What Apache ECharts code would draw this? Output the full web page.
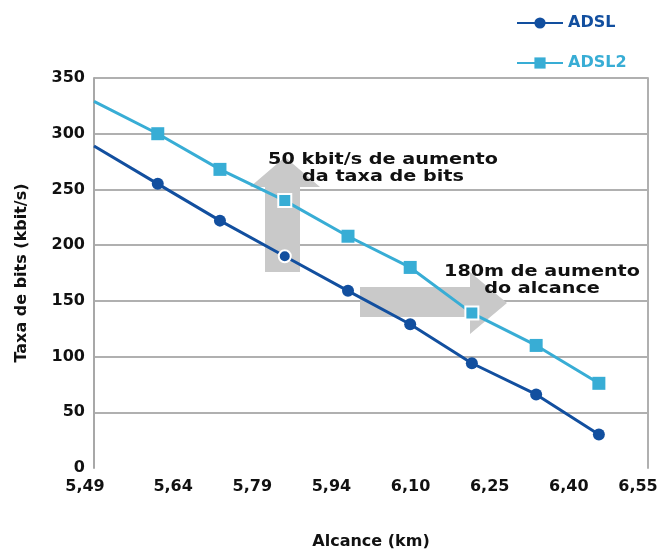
<!DOCTYPE html>
<html>
<head>
<meta charset="utf-8">
<script src="https://cdn.jsdelivr.net/npm/echarts@6/dist/echarts.min.js"></script>
<style>html,body{margin:0;padding:0;background:#fff}#c{width:665px;height:549px}</style>
</head>
<body>
<div id="c"></div>
<script>
// Data
const tickLabels = ['5,49','5,64','5,79','5,94','6,10','6,25','6,40','6,55'];
const alcanceKm = [5.49, 5.612, 5.731, 5.855, 5.976, 6.095, 6.213, 6.336, 6.456];
const adsl  = [289, 255, 222, 190, 159, 129, 94, 66, 30];
const adsl2 = [329, 300, 268, 240, 208, 180, 139, 110, 76];
const highlightAdsl = [3];
const highlightAdsl2 = [3, 6];
const yTicks = [0, 50, 100, 150, 200, 250, 300, 350];

const kmMin = 5.49, kmMax = 6.55;
const step = (kmMax - kmMin) / (tickLabels.length - 1);

const C1 = '#124f9f', C2 = '#38add5';
const FONT = 'DejaVu Sans';

function build(vals, hl, color) {
  return vals.map((v, i) => {
    const d = { value: [alcanceKm[i] - kmMin, v] };
    if (i === 0) d.symbol = 'none';
    if (hl.indexOf(i) >= 0) d.itemStyle = { borderColor: '#fff', borderWidth: 2, color: color };
    return d;
  });
}

const labelStyle = { fontFamily: FONT, fontWeight: 'bold', fontSize: 16, color: '#111' };

const chart = echarts.init(document.getElementById('c'));
chart.setOption({
  animation: false,
  textStyle: { fontFamily: FONT },
  grid: { left: 94, right: 17, top: 78, bottom: 81, outerBoundsMode: 'none', containLabel: false },
  legend: {
    orient: 'vertical', left: 511, top: 10, itemGap: 24, itemWidth: 46, itemHeight: 14,
    textStyle: { fontFamily: FONT, fontWeight: 'bold', fontSize: 16 },
    data: [
      { name: 'ADSL', textStyle: { color: C1 } },
      { name: 'ADSL2', textStyle: { color: C2 } }
    ]
  },
  xAxis: {
    type: 'value', min: 0, max: kmMax - kmMin, interval: step,
    name: 'Alcance (km)', nameLocation: 'middle', nameGap: 66,
    nameTextStyle: { fontFamily: FONT, fontWeight: 'bold', fontSize: 16, color: '#111' },
    axisLine: { show: false }, axisTick: { show: false }, splitLine: { show: false },
    axisLabel: {
      margin: 11, fontFamily: FONT, fontWeight: 'bold', fontSize: 16, color: '#111',
      formatter: v => {
        const i = Math.round(v / step);
        if (i === 0) return '{first|' + tickLabels[i] + '}';
        if (i === tickLabels.length - 1) return '{last|' + tickLabels[i] + '}';
        return tickLabels[i];
      },
      rich: {
        first: Object.assign({ padding: [0, 18, 0, 0] }, labelStyle),
        last: Object.assign({ padding: [0, 20, 0, 0] }, labelStyle)
      }
    }
  },
  yAxis: [{
    type: 'value', min: yTicks[0], max: yTicks[yTicks.length - 1], interval: yTicks[1] - yTicks[0],
    name: 'Taxa de bits (kbit/s)', nameLocation: 'middle', nameGap: 64,
    nameTextStyle: { fontFamily: FONT, fontWeight: 'bold', fontSize: 16, color: '#111' },
    axisLine: { show: true, lineStyle: { color: '#a8a8a8', width: 2 } },
    axisTick: { show: false },
    splitLine: { show: true, showMinLine: false, lineStyle: { color: '#b0b0b0', width: 2 } },
    axisLabel: { margin: 9, fontFamily: FONT, fontWeight: 'bold', fontSize: 16, color: '#111' }
  }, {
    type: 'value', position: 'right', min: yTicks[0], max: yTicks[yTicks.length - 1],
    axisLine: { show: true, lineStyle: { color: '#b0b0b0', width: 2 } },
    axisTick: { show: false }, axisLabel: { show: false }, splitLine: { show: false }
  }],
  graphic: [
    { type: 'polygon', z: 1, shape: { points: [[265,272],[265,187],[250,187],[285,157],[320,187],[300,187],[300,272]] }, style: { fill: '#c9c9c9' } },
    { type: 'polygon', z: 1, shape: { points: [[360,287],[470,287],[470,272],[507,303],[470,334],[470,317],[360,317]] }, style: { fill: '#c9c9c9' } },
    { type: 'text', z: 10, x: 383, y: 152, scaleX: 1.28, style: { text: '50 kbit/s de aumento\nda taxa de bits', align: 'center', verticalAlign: 'top', fill: '#111', font: 'bold 15px "DejaVu Sans"', lineHeight: 17 } },
    { type: 'text', z: 10, x: 542, y: 264, scaleX: 1.28, style: { text: '180m de aumento\ndo alcance', align: 'center', verticalAlign: 'top', fill: '#111', font: 'bold 15px "DejaVu Sans"', lineHeight: 17 } }
  ],
  series: [{
    name: 'ADSL', type: 'line', z: 3, data: build(adsl, highlightAdsl, C1),
    symbol: 'circle', symbolSize: 12, lineStyle: { color: C1, width: 3 }, itemStyle: { color: C1 }
  }, {
    name: 'ADSL2', type: 'line', z: 3, data: build(adsl2, highlightAdsl2, C2),
    symbol: 'rect', symbolSize: 13, lineStyle: { color: C2, width: 3 }, itemStyle: { color: C2 }
  }]
});
</script>
</body>
</html>
